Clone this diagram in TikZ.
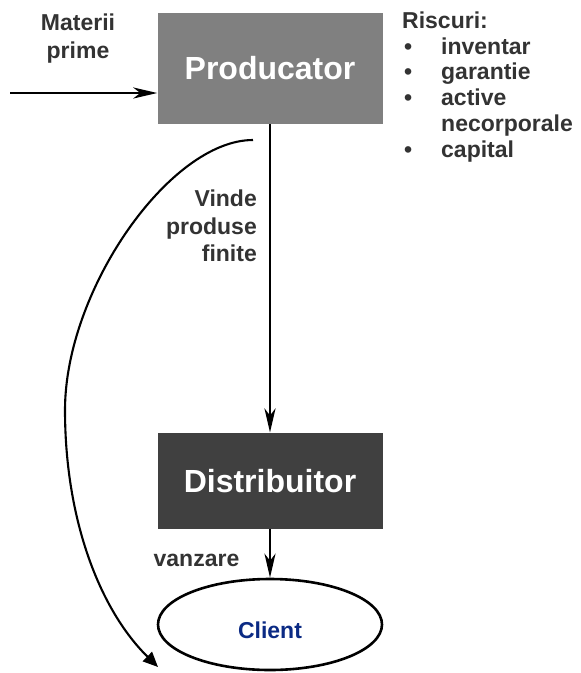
\documentclass[tikz,border=0pt]{standalone}
\usepackage{fontspec}
\setmainfont{Liberation Sans}
\usetikzlibrary{arrows.meta,shapes.geometric}
\definecolor{prodgray}{HTML}{808080}
\definecolor{distgray}{HTML}{404040}
\definecolor{labelgray}{HTML}{333333}
\definecolor{clientblue}{HTML}{0B2A84}
\newcommand{\riskbul}{\makebox[39pt][l]{\hspace{2pt}\textbullet}}
\tikzset{
  box/.style={rectangle, minimum width=225pt, inner sep=0pt, text=white,
    font=\fontsize{32}{36}\selectfont\bfseries},
  lbl/.style={inner sep=0pt, text=labelgray, font=\fontsize{23}{27.5}\selectfont\bfseries},
  flow/.style={line width=2.8pt, -{Stealth[length=24pt,width=11pt,inset=7pt]}},
  bypass/.style={line width=2.1pt, -{Triangle[length=15pt,width=13pt]}}
}
\begin{document}
\begin{tikzpicture}[x=1pt,y=-1pt]
  \useasboundingbox (0,0) rectangle (581,673);
  \node[box, fill=prodgray, minimum height=111pt] (prod) at (270,68.5) {Producator};
  \node[box, fill=distgray, minimum height=96pt] (dist) at (270,480.7) {Distribuitor};
  \node[ellipse, draw, line width=2.6pt, minimum width=224pt, minimum height=91pt,
    text=clientblue, font=\fontsize{23}{27}\selectfont\bfseries,
    text height=27pt, text depth=0pt] (client) at (270,624.5) {Client};
  \node[lbl, align=center, anchor=north] (raw) at (78,14) {Materii\\prime};
  \node[lbl, align=right, anchor=north east] (sells) at (257,190) {Vinde\\produse\\finite};
  \node[lbl, anchor=base] (sale) at (196.5,566.7) {vanzare};
  \node[lbl, align=left, anchor=north west, font=\fontsize{23}{25.7}\selectfont\bfseries]
    (risks) at (402,11.7) {Riscuri:\\\riskbul inventar\\\riskbul garantie\\\riskbul active\\
    \hspace*{39pt}necorporale\\\riskbul capital};
  \coordinate (rawin) at (10,93);
  \coordinate (loopstart) at (253,140);
  \coordinate (loopend) at (158,667);
  \draw[flow] (rawin) -- (rawin -| prod.west);
  \draw[flow] (prod) -- (dist);
  \draw[flow] (dist) -- (client);
  \draw[bypass] (loopstart) .. controls (170,140) and (65,290) .. (65,410)
    .. controls (65,520) and (100,610) .. (loopend);
\end{tikzpicture}
\end{document}
